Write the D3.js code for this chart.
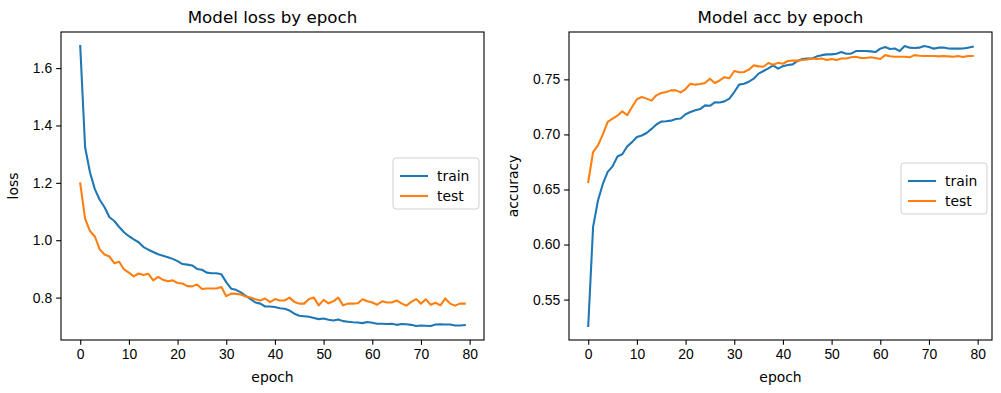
<!DOCTYPE html>
<html>
<head>
<meta charset="utf-8">
<script src="https://cdn.jsdelivr.net/npm/d3@7"></script>
<style>
  body { margin: 0; background: #fff; }
  svg { display: block; font-family: "DejaVu Sans", sans-serif; }
  .tick text { font-size: 13.9px; fill: #000; }
</style>
</head>
<body>
<div id="container"></div>
<script>
const lossTrain = [1.677, 1.324, 1.237, 1.178, 1.141, 1.115, 1.080, 1.067, 1.046, 1.028,
  1.014, 1.003, 0.993, 0.976, 0.967, 0.959, 0.951, 0.946, 0.941, 0.935,
  0.927, 0.917, 0.915, 0.912, 0.900, 0.897, 0.887, 0.885, 0.885, 0.881,
  0.854, 0.831, 0.827, 0.818, 0.806, 0.795, 0.783, 0.779, 0.769, 0.769,
  0.767, 0.763, 0.761, 0.755, 0.744, 0.737, 0.735, 0.733, 0.729, 0.725,
  0.727, 0.723, 0.720, 0.724, 0.718, 0.716, 0.714, 0.713, 0.711, 0.715,
  0.712, 0.709, 0.709, 0.708, 0.709, 0.705, 0.708, 0.707, 0.705, 0.701,
  0.703, 0.702, 0.701, 0.706, 0.707, 0.706, 0.706, 0.703, 0.703, 0.704]

const lossTest = [1.198, 1.075, 1.032, 1.013, 0.968, 0.950, 0.943, 0.920, 0.925, 0.898,
  0.887, 0.874, 0.884, 0.879, 0.883, 0.860, 0.872, 0.862, 0.857, 0.860,
  0.851, 0.849, 0.840, 0.839, 0.846, 0.830, 0.832, 0.832, 0.832, 0.837,
  0.805, 0.814, 0.813, 0.811, 0.804, 0.800, 0.794, 0.790, 0.797, 0.784,
  0.795, 0.790, 0.790, 0.800, 0.785, 0.779, 0.779, 0.795, 0.800, 0.773,
  0.792, 0.780, 0.787, 0.800, 0.773, 0.779, 0.779, 0.780, 0.794, 0.787,
  0.783, 0.775, 0.787, 0.783, 0.783, 0.790, 0.780, 0.772, 0.785, 0.795,
  0.779, 0.794, 0.775, 0.782, 0.773, 0.797, 0.779, 0.772, 0.779, 0.779]

const accTrain = [0.526, 0.616, 0.640, 0.655, 0.666, 0.671, 0.680, 0.682, 0.689, 0.693,
  0.6977, 0.699, 0.7013, 0.705, 0.709, 0.7116, 0.712, 0.7125, 0.714, 0.7145,
  0.7183, 0.7203, 0.722, 0.723, 0.7264, 0.726, 0.7291, 0.729, 0.730, 0.7325,
  0.7385, 0.7452, 0.746, 0.7479, 0.7506, 0.7552, 0.7576, 0.760, 0.7627, 0.7597,
  0.762, 0.763, 0.7636, 0.7667, 0.7685, 0.769, 0.769, 0.7709, 0.772, 0.7727,
  0.7727, 0.7733, 0.7748, 0.7733, 0.7733, 0.7757, 0.7757, 0.7757, 0.7754, 0.7748,
  0.7779, 0.7794, 0.7776, 0.778, 0.7757, 0.7803, 0.7788, 0.7785, 0.7788, 0.7803,
  0.7794, 0.7779, 0.7788, 0.779, 0.778, 0.7779, 0.7779, 0.778, 0.7788, 0.7797]

const accTest = [0.6568, 0.684, 0.690, 0.700, 0.7113, 0.7143, 0.717, 0.721, 0.7174, 0.7249,
  0.7319, 0.734, 0.7325, 0.7307, 0.7355, 0.7376, 0.7385, 0.740, 0.740, 0.7382,
  0.7412, 0.7461, 0.7452, 0.7458, 0.7467, 0.7506, 0.7467, 0.749, 0.752, 0.751,
  0.7576, 0.7564, 0.7567, 0.7588, 0.7627, 0.7618, 0.7615, 0.7649, 0.7633, 0.765,
  0.7642, 0.7667, 0.767, 0.767, 0.7676, 0.768, 0.769, 0.7685, 0.769, 0.7676,
  0.7685, 0.7676, 0.769, 0.769, 0.770, 0.7706, 0.7694, 0.7694, 0.770, 0.7694,
  0.7685, 0.772, 0.771, 0.7706, 0.7706, 0.7706, 0.770, 0.772, 0.7715, 0.7712,
  0.7712, 0.7712, 0.7709, 0.7712, 0.7709, 0.7706, 0.7712, 0.7703, 0.7712, 0.7712]

const xTicks = [0, 10, 20, 30, 40, 50, 60, 70, 80]
const lossTicks = [0.8, 1.0, 1.2, 1.4, 1.6]
const accTicks = [0.55, 0.60, 0.65, 0.70, 0.75]
const seriesNames = ['train', 'test']

const width = 1001
const height = 393
const colors = ['#1f77b4', '#ff7f0e']
const tickLen = 4.86

const svg = d3.select('#container')
  .append('svg')
  .attr('width', width)
  .attr('height', height)

// matplotlib style 5% margins
const padDomain = arr => {
  const lo = d3.min(arr), hi = d3.max(arr)
  const m = (hi - lo) * 0.05
  return [lo - m, hi + m]
}

const makePanel = (opts) => {
  const { left, right, top, bottom, title, ylabel, series, yTicks, yFmt, legendY } = opts
  const g = svg.append('g')
  const n = series[0].length

  const scaleX = d3.scaleLinear()
    .domain(padDomain([0, n - 1]))
    .range([left, right])

  const scaleY = d3.scaleLinear()
    .domain(padDomain(series.flat()))
    .range([bottom, top])

  const axisX = d3.axisBottom(scaleX)
    .tickValues(xTicks)
    .tickSize(tickLen)
    .tickSizeOuter(0)
    .tickPadding(4)
    .tickFormat(d3.format('d'))

  g.append('g')
    .attr('transform', `translate(0, ${bottom})`)
    .call(axisX)
    .call(a => a.select('.domain').remove())

  const axisY = d3.axisLeft(scaleY)
    .tickValues(yTicks)
    .tickSize(tickLen)
    .tickSizeOuter(0)
    .tickPadding(4)
    .tickFormat(yFmt)

  g.append('g')
    .attr('transform', `translate(${left}, 0)`)
    .call(axisY)
    .call(a => a.select('.domain').remove())

  g.selectAll('.tick line').attr('stroke', '#000').attr('stroke-width', 1.1)

  const line = d3.line()
    .x((d, i) => scaleX(i))
    .y(d => scaleY(d))

  series.forEach((s, k) => {
    g.append('path')
      .datum(s)
      .attr('fill', 'none')
      .attr('stroke', colors[k])
      .attr('stroke-width', 2.08)
      .attr('stroke-linejoin', 'round')
      .attr('stroke-linecap', 'square')
      .attr('d', line)
  })

  // frame
  g.append('rect')
    .attr('x', left)
    .attr('y', top)
    .attr('width', right - left)
    .attr('height', bottom - top)
    .attr('fill', 'none')
    .attr('stroke', '#000')
    .attr('stroke-width', 1.1)

  g.append('text')
    .attr('x', (left + right) / 2)
    .attr('y', top - 9)
    .attr('text-anchor', 'middle')
    .style('font-size', '16.7px')
    .text(title)

  g.append('text')
    .attr('x', (left + right) / 2)
    .attr('y', 382)
    .attr('text-anchor', 'middle')
    .style('font-size', '13.9px')
    .text('epoch')

  const yMid = (top + bottom) / 2
  g.append('text')
    .attr('transform', `translate(${opts.ylabelX}, ${yMid}) rotate(-90)`)
    .attr('text-anchor', 'middle')
    .style('font-size', '13.9px')
    .text(ylabel)

  // legend
  const lw = 86, lh = 51
  const lx = right - 5 - lw
  const ly = legendY
  const lg = g.append('g').attr('transform', `translate(${lx}, ${ly})`)
  lg.append('rect')
    .attr('width', lw)
    .attr('height', lh)
    .attr('rx', 3)
    .attr('fill', 'rgba(255,255,255,0.8)')
    .attr('stroke', '#d0d0d0')
    .attr('stroke-width', 1)
  seriesNames.forEach((name, k) => {
    const yy = 18 + k * 20
    lg.append('line')
      .attr('x1', 7).attr('x2', 35)
      .attr('y1', yy).attr('y2', yy)
      .attr('stroke', colors[k])
      .attr('stroke-width', 2.08)
    lg.append('text')
      .attr('x', 44)
      .attr('y', yy)
      .attr('dy', '0.35em')
      .style('font-size', '13.9px')
      .text(name)
  })
}

makePanel({
  left: 61, right: 484, top: 32, bottom: 340,
  title: 'Model loss by epoch', ylabel: 'loss', ylabelX: 18,
  series: [lossTrain, lossTest], yTicks: lossTicks, yFmt: d3.format('.1f'),
  legendY: 158
})

makePanel({
  left: 569, right: 992, top: 32, bottom: 340,
  title: 'Model acc by epoch', ylabel: 'accuracy', ylabelX: 518,
  series: [accTrain, accTest], yTicks: accTicks, yFmt: d3.format('.2f'),
  legendY: 163
})
</script>
</body>
</html>
